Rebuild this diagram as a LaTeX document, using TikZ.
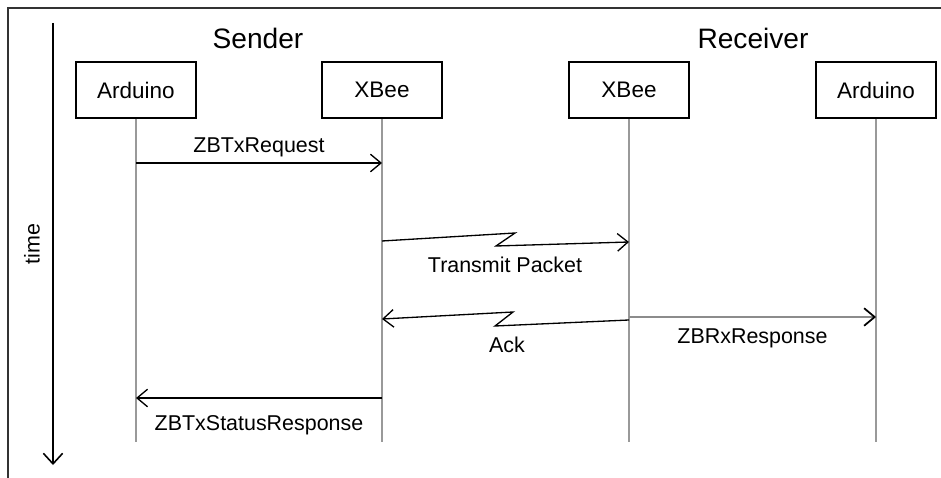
\documentclass[tikz,border=0pt]{standalone}
\usepackage{fontspec}
\setmainfont{Liberation Sans}
\usetikzlibrary{arrows.meta}
\begin{document}
\begin{tikzpicture}[
  box/.style={draw, line width=1pt, minimum width=2.4cm, minimum height=1.12cm, font=\fontsize{12.8}{15}\selectfont},
  life/.style={draw, black!40, line width=1.2pt},
  msg/.style={draw, line width=0.75pt, -{Straight Barb[length=6pt,width=10pt,color=black]}},
  lbl/.style={font=\fontsize{12.2}{14}\selectfont},
  side/.style={font=\fontsize{16}{19}\selectfont}]
\path[use as bounding box] (0,0) rectangle (18.82,-9.56);

% frame
\draw[line width=1pt, black!80] (0.16,-9.56) -- (0.16,-0.16) -- (18.82,-0.16);

% time axis
\coordinate (t0) at (1.06,-0.46);
\coordinate (t1) at (1.06,-9.3);
\path[draw,line width=0.9pt,-{Straight Barb[length=6pt,width=11pt]}] (t0) -- (t1);
\node[lbl,rotate=90] (time) at (0.64,-4.88) {time};

\node[side] (sender) at (5.16,-0.76) {Sender};
\node[side] (receiver) at (15.06,-0.76) {Receiver};

\node[box] (sa) at (2.72,-1.8) {Arduino};
\node[box] (sx) at (7.64,-1.8) {XBee};
\node[box] (rx) at (12.58,-1.8) {XBee};
\node[box] (ra) at (17.52,-1.8) {Arduino};

% lifelines
\foreach \n in {sa,sx,rx,ra} {
  \coordinate (\n-end) at (\n |- 0,-8.84);
  \path[life] (\n.south) -- (\n-end);
}

\coordinate (req-s) at (sa |- 0,-3.26);
\coordinate (req-e) at (sx |- 0,-3.26);
\path[msg] (req-s) -- node[lbl,above] (req) {ZBTxRequest} (req-e);

\coordinate (tp-s) at (sx |- 0,-4.82);
\coordinate (tp-e) at (rx |- 0,-4.84);
\path[msg] (tp-s) -- (10.3,-4.66) -- (9.92,-4.92) -- (tp-e);
\node[lbl] (tp) at (10.1,-5.3) {Transmit Packet};

\coordinate (ack-s) at (rx |- 0,-6.4);
\coordinate (ack-e) at (sx |- 0,-6.38);
\path[msg] (ack-s) -- (9.9,-6.52) -- (10.26,-6.24) -- (ack-e);
\node[lbl] (ack) at (10.14,-6.9) {Ack};

\coordinate (rxr-s) at (rx |- 0,-6.34);
\coordinate (rxr-e) at (ra |- 0,-6.34);
\path[msg,draw=black!45,line width=1pt] (rxr-s) -- node[lbl,below=3pt] (rxr) {ZBRxResponse} (rxr-e);

\coordinate (st-s) at (sx |- 0,-7.96);
\coordinate (st-e) at (sa |- 0,-7.96);
\path[msg] (st-s) -- node[lbl,below=6pt] (st) {ZBTxStatusResponse} (st-e);
\end{tikzpicture}
\end{document}
